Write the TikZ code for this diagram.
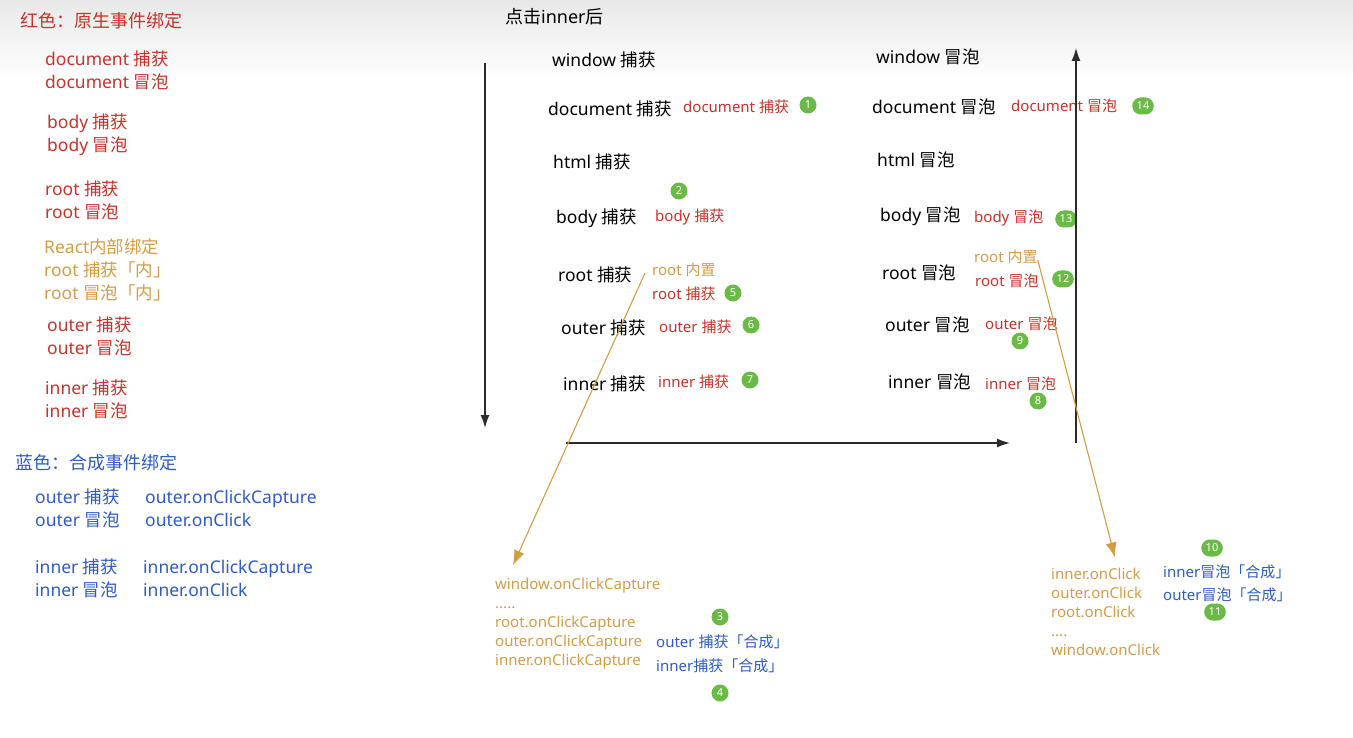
\documentclass[tikz,border=0pt]{standalone}
\usepackage{fontspec}
\setmainfont{Noto Sans}
\newfontfamily\zhfont{Noto Sans CJK SC}
\usetikzlibrary{positioning,arrows.meta}
% Chinese characters and full-width punctuation go to the CJK font
\XeTeXinterchartokenstate=1
\newXeTeXintercharclass\zhclass
\count255="3000
\loop\ifnum\count255<"A000
  \XeTeXcharclass\count255=\zhclass
  \advance\count255 by 1
\repeat
\XeTeXcharclass"FF1A=\zhclass
\XeTeXinterchartoks 0 \zhclass = {\zhfont}
\XeTeXinterchartoks 4095 \zhclass = {\zhfont}
\XeTeXinterchartoks \zhclass 0 = {\normalfont}
\XeTeXinterchartoks \zhclass 4095 = {\normalfont}

\definecolor{natred}{HTML}{C8322A}
\definecolor{reactgold}{HTML}{D29D45}
\definecolor{synblue}{HTML}{2E5BC6}
\definecolor{stepgreen}{HTML}{6BBA48}
\definecolor{flowgray}{HTML}{2B2B2B}

\tikzset{
  phase/.style={anchor=west, inner sep=0pt, font=\fontsize{17.5}{21}\selectfont},
  native/.style={anchor=west, inner sep=0pt, text=natred, font=\fontsize{15}{18}\selectfont},
  inside/.style={native, text=reactgold},
  legend/.style={anchor=west, inner sep=0pt, align=left, font=\fontsize{17.5}{23}\selectfont},
  heading/.style={legend, font=\fontsize{18}{22}\selectfont},
  calls/.style={anchor=west, inner sep=0pt, align=left, text=reactgold, font=\fontsize{15}{19}\selectfont},
  synth/.style={anchor=west, inner sep=0pt, align=left, text=synblue, font=\fontsize{15}{23.5}\selectfont},
  order/.style={fill=stepgreen, text=white, rounded corners=8.5pt, minimum height=17pt,
    minimum width=17pt, inner xsep=4.5pt, inner ysep=0pt, font=\fontsize{11}{11}\selectfont\bfseries},
  flow/.style={draw=flowgray, line width=1.4pt, -{Latex[length=13pt,width=9pt]}},
  jump/.style={draw=reactgold, line width=1.1pt, -{Latex[length=15pt,width=11pt]}},
}

\begin{document}
\begin{tikzpicture}[x=1pt, y=-1pt]
  \useasboundingbox (0,0) rectangle (1353,738);
  \fill[white] (0,0) rectangle (1353,738);
  \shade[top color=black!9, bottom color=white] (0,0) rectangle (1353,80);

  % legend: native listeners
  \node[heading, text=natred] (natTitle) at (20,21) {红色：原生事件绑定};
  \node[legend, text=natred] (lgDoc) at (45,70.5) {document 捕获\\document 冒泡};
  \node[legend, text=natred] (lgBody) at (47,134.5) {body 捕获\\body 冒泡};
  \node[legend, text=natred] (lgRoot) at (45,200.5) {root 捕获\\root 冒泡};
  \node[legend, text=reactgold] (lgReact) at (44,269.5) {React内部绑定\\root 捕获「内」\\root 冒泡「内」};
  \node[legend, text=natred] (lgOuter) at (47,336.5) {outer 捕获\\outer 冒泡};
  \node[legend, text=natred] (lgInner) at (45,399.5) {inner 捕获\\inner 冒泡};

  % legend: synthetic handlers
  \node[heading, text=synblue] (synTitle) at (15,463) {蓝色：合成事件绑定};
  \node[legend, text=synblue] (lgOuterS) at (35,508.5) {outer 捕获\\outer 冒泡};
  \node[legend, text=synblue] (lgOuterH) at (145,508.5) {outer.onClickCapture\\outer.onClick};
  \node[legend, text=synblue] (lgInnerS) at (35,578.5) {inner 捕获\\inner 冒泡};
  \node[legend, text=synblue] (lgInnerH) at (143,578.5) {inner.onClickCapture\\inner.onClick};

  % capture phase, top to bottom
  \node[phase, font=\fontsize{18}{22}\selectfont] (click) at (505,17) {点击inner后};
  \node[phase] (cWin) at (552,60) {window 捕获};
  \node[phase] (cDoc) at (548,109) {document 捕获};
  \node[phase] (cHtml) at (553,162) {html 捕获};
  \node[phase] (cBody) at (556,218) {body 捕获};
  \node[phase] (cRoot) at (558,275) {root 捕获};
  \node[phase] (cOuter) at (561,328) {outer 捕获};
  \node[phase] (cInner) at (563,384) {inner 捕获};
  \node[native] (nDocC) at (683,107) {document 捕获};
  \node[native] (nBodyC) at (655,217) {body 捕获};
  \node[inside] (kRootC) at (652,270) {root 内置};
  \node[native] (nRootC) at (652,294) {root 捕获};
  \node[native] (nOuterC) at (659,327) {outer 捕获};
  \node[native] (nInnerC) at (658,382) {inner 捕获};
  \node[order] (s1) at (808,105) {1};
  \node[order] (s2) at (679,191) {2};
  \node[order] (s5) at (733,293) {5};
  \node[order] (s6) at (751,325) {6};
  \node[order] (s7) at (750,380) {7};

  % bubble phase, bottom to top
  \node[phase] (bWin) at (876,57) {window 冒泡};
  \node[phase] (bDoc) at (872,107) {document 冒泡};
  \node[phase] (bHtml) at (877,160) {html 冒泡};
  \node[phase] (bBody) at (880,216) {body 冒泡};
  \node[phase] (bRoot) at (882,273) {root 冒泡};
  \node[phase] (bOuter) at (885,325) {outer 冒泡};
  \node[phase] (bInner) at (888,382) {inner 冒泡};
  \node[native] (nDocB) at (1011,106) {document 冒泡};
  \node[native] (nBodyB) at (974,218) {body 冒泡};
  \node[inside] (kRootB) at (974,257) {root 内置};
  \node[native] (nRootB) at (975,281) {root 冒泡};
  \node[native] (nOuterB) at (985,324) {outer 冒泡};
  \node[native] (nInnerB) at (985,384) {inner 冒泡};
  \node[order] (s14) at (1143,106) {14};
  \node[order] (s13) at (1066,219) {13};
  \node[order] (s12) at (1063,279) {12};
  \node[order] (s9) at (1020,341) {9};
  \node[order] (s8) at (1038,401) {8};

  % direction of travel
  \coordinate (downTop) at (485,63);
  \coordinate (downEnd) at (485,428);
  \coordinate (railStart) at (566,443);
  \coordinate (railEnd) at (1010,443);
  \coordinate (upStart) at (1076,443);
  \coordinate (upEnd) at (1076,48);
  \draw[flow] (downTop) -- (downEnd);
  \draw[flow] (railStart) -- (railEnd);
  \draw[flow] (upStart) -- (upEnd);

  % what the root listeners dispatch
  \node[calls] (capList) at (495,624) {window.onClickCapture\\.....\\root.onClickCapture\\outer.onClickCapture\\inner.onClickCapture};
  \node[synth] (synCap) at (656,654) {outer 捕获「合成」\\inner捕获「合成」};
  \node[order] (s3) at (720,617) {3};
  \node[order] (s4) at (720,693) {4};
  \node[calls] (bubList) at (1051,611.5) {inner.onClick\\outer.onClick\\root.onClick\\....\\window.onClick};
  \node[synth] (synBub) at (1163,583.5) {inner冒泡「合成」\\outer冒泡「合成」};
  \node[order] (s10) at (1212,548) {10};
  \node[order] (s11) at (1215,612) {11};
  \draw[jump] ([xshift=-7pt,yshift=-3pt]kRootC.west) -- ([xshift=18pt,yshift=13pt]capList.north west);
  \draw[jump] ([yshift=-3pt]kRootB.east) -- ([xshift=64pt,yshift=10pt]bubList.north west);
\end{tikzpicture}
\end{document}
